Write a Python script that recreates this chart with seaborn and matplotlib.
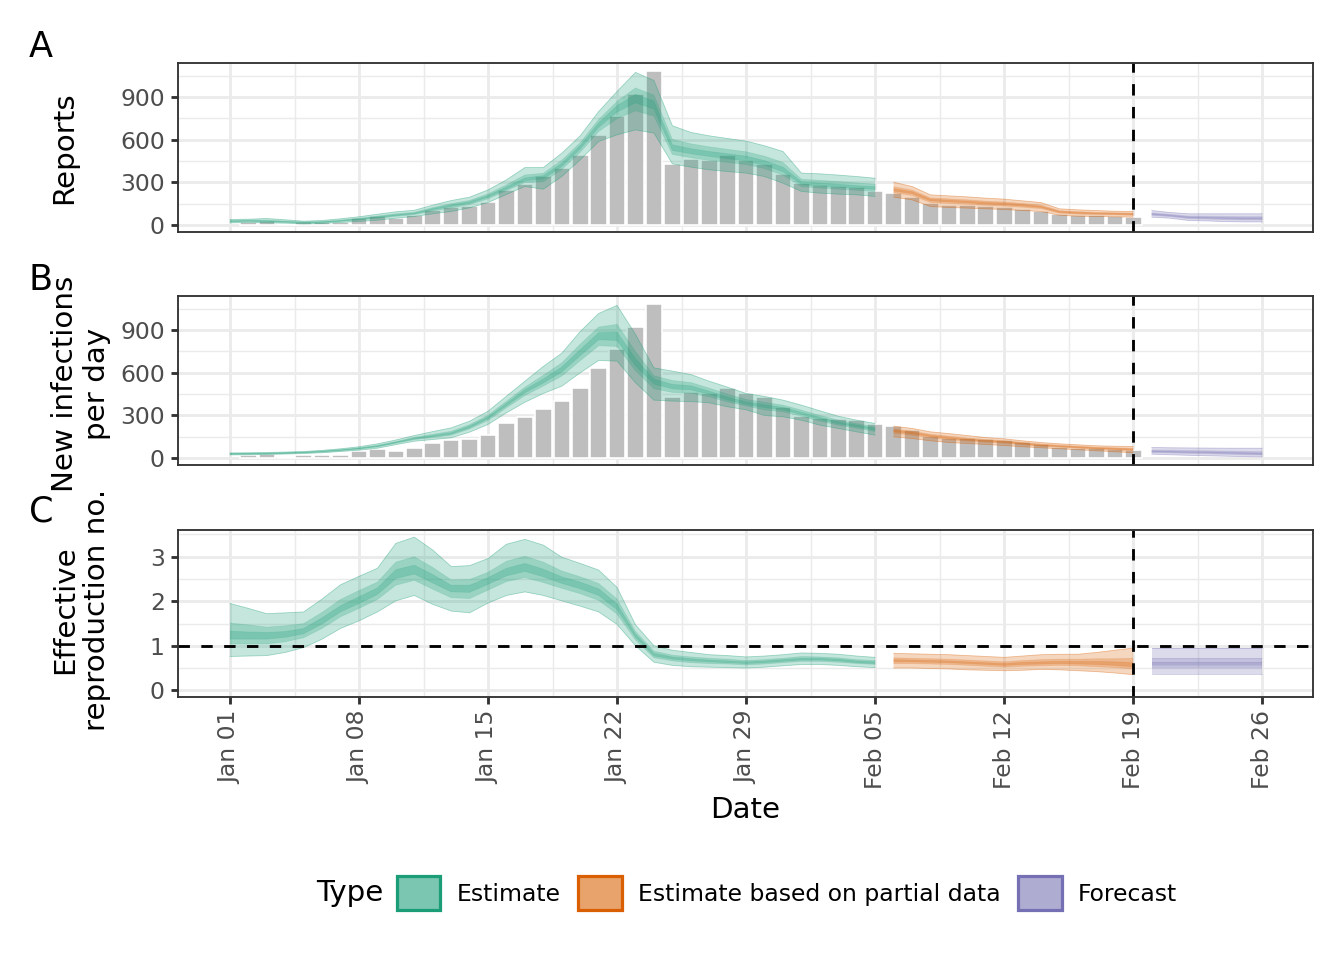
import pandas as pd
import numpy as np
import matplotlib
matplotlib.use("Agg")
import matplotlib.pyplot as plt
import matplotlib.dates as mdates
from matplotlib.patches import Patch
from matplotlib.ticker import FixedLocator
import seaborn as sns

# theme first, fonts after (set_theme resets font.family)
sns.set_theme(style="whitegrid")
plt.rcParams['font.family'] = ['DejaVu Sans']
plt.rcParams['text.color'] = 'black'

# ---------------- data ----------------
dates = pd.date_range("2020-01-01", "2020-02-26")
report_dates = pd.date_range("2020-01-02", "2020-02-19")
reports = [23, 26, 5, 21, 21, 21, 47, 61, 52, 75,
           110, 131, 138, 164, 246, 291, 345, 405, 492, 631,
           764, 920, 1083, 431, 462, 458, 495, 458, 429, 358,
           295, 284, 272, 270, 240, 225, 195, 155, 145, 140,
           135, 128, 112, 103, 80, 75, 72, 62, 58]

type_names = ["Estimate", "Estimate based on partial data", "Forecast"]
type_ends = ["2020-02-05", "2020-02-19", "2020-02-26"]

# Reports
rep_lo90 = [16, 19, 16, 14, 9, 12, 19, 26, 35, 49, 61, 80, 96, 122, 159, 216, 272, 253, 342, 459,
            588, 635, 670, 647, 431, 408, 389, 377, 366, 342, 295, 237, 225, 218, 213, 202, 197, 178, 131, 124,
            120, 115, 110, 103, 96, 70, 63, 61, 59, 56, 56, 49, 33, 30, 25, 23, 23]
rep_lo50 = [23, 26, 23, 19, 15, 17, 26, 36, 48, 62, 74, 100, 121, 144, 185, 242, 300, 304, 391, 512,
            658, 748, 804, 766, 497, 474, 455, 441, 426, 398, 351, 272, 260, 253, 245, 237, 228, 209, 159, 152,
            146, 139, 134, 126, 116, 84, 77, 74, 72, 69, 69, 60, 46, 43, 39, 37, 37]
rep_lo20 = [26, 28, 26, 22, 17, 20, 28, 40, 53, 67, 79, 108, 132, 153, 196, 253, 312, 325, 412, 535,
            687, 795, 860, 816, 525, 502, 483, 467, 451, 422, 375, 286, 275, 268, 259, 251, 240, 222, 171, 164,
            157, 149, 144, 135, 124, 90, 83, 79, 77, 74, 74, 65, 51, 49, 45, 43, 43]
rep_hi20 = [30, 32, 31, 25, 20, 23, 32, 45, 59, 74, 85, 117, 143, 165, 209, 269, 332, 348, 436, 560,
            719, 841, 920, 872, 565, 538, 518, 502, 485, 454, 408, 306, 296, 288, 278, 270, 256, 236, 183, 176,
            169, 160, 155, 145, 133, 97, 90, 85, 83, 80, 81, 71, 58, 56, 54, 52, 52]
rep_hi50 = [33, 35, 36, 29, 23, 26, 36, 49, 64, 80, 91, 124, 152, 174, 220, 284, 353, 365, 457, 580,
            743, 870, 965, 914, 604, 572, 551, 533, 516, 485, 441, 323, 315, 307, 297, 288, 270, 247, 192, 185,
            178, 169, 163, 153, 141, 102, 95, 90, 87, 85, 87, 76, 64, 63, 61, 60, 60]
rep_hi90 = [40, 42, 47, 38, 28, 33, 45, 59, 77, 94, 105, 141, 173, 197, 248, 319, 405, 405, 506, 628,
            799, 940, 1074, 1017, 699, 652, 628, 609, 591, 558, 518, 366, 361, 352, 342, 330, 302, 272, 213, 206,
            199, 190, 183, 171, 159, 115, 108, 103, 98, 96, 103, 89, 80, 80, 80, 80, 80]

# New infections per day
inf_lo90 = [23, 24, 26, 29, 33, 38, 47, 56, 70, 95, 119, 131, 143, 183, 237, 319, 393, 455, 506, 600,
            687, 682, 530, 408, 401, 398, 389, 361, 340, 300, 291, 267, 232, 209, 185, 162, 150, 138, 122, 110,
            103, 96, 89, 80, 73, 66, 59, 52, 45, 38, 28, 24, 20, 17, 14, 11, 9]
inf_lo50 = [27, 28, 30, 33, 37, 43, 52, 63, 78, 104, 130, 145, 161, 205, 265, 354, 440, 507, 577, 685,
            790, 785, 614, 488, 462, 456, 431, 395, 367, 339, 326, 295, 260, 232, 210, 187, 175, 162, 143, 130,
            120, 112, 105, 94, 84, 77, 70, 63, 58, 52, 39, 37, 33, 31, 28, 24, 22]
inf_lo20 = [29, 30, 32, 35, 39, 46, 55, 66, 82, 108, 135, 151, 169, 214, 277, 368, 459, 528, 606, 720,
            832, 827, 649, 521, 487, 480, 449, 409, 378, 355, 340, 307, 272, 242, 221, 198, 186, 172, 152, 138,
            127, 118, 111, 100, 88, 81, 74, 67, 63, 58, 44, 42, 39, 37, 34, 30, 27]
inf_hi20 = [31, 32, 34, 37, 41, 48, 58, 70, 87, 113, 141, 160, 179, 226, 291, 386, 482, 557, 641, 763,
            882, 886, 700, 555, 519, 509, 471, 429, 396, 375, 358, 323, 287, 255, 233, 210, 197, 183, 161, 147,
            135, 125, 118, 106, 94, 87, 80, 73, 69, 64, 51, 49, 46, 45, 42, 39, 36]
inf_hi50 = [33, 34, 36, 39, 43, 50, 60, 73, 91, 117, 146, 168, 189, 236, 302, 401, 499, 583, 670, 801,
            922, 941, 750, 579, 546, 532, 492, 450, 413, 393, 373, 338, 301, 267, 243, 220, 205, 190, 168, 155,
            142, 131, 123, 111, 99, 91, 84, 77, 73, 69, 58, 56, 54, 52, 50, 48, 46]
inf_hi90 = [37, 38, 40, 43, 47, 55, 66, 80, 101, 128, 159, 187, 213, 260, 330, 436, 541, 645, 738, 890,
            1017, 1074, 870, 635, 612, 588, 541, 499, 455, 434, 408, 373, 333, 295, 267, 244, 225, 209, 185, 173,
            159, 145, 136, 122, 110, 101, 94, 87, 84, 82, 75, 73, 72, 71, 70, 70, 70]

# Effective reproduction number
rt_lo90 = [0.76, 0.77, 0.78, 0.85, 0.96, 1.15, 1.39, 1.56, 1.76, 2.01, 2.13, 1.93, 1.78, 1.74, 1.96,
           2.13, 2.21, 2.13, 2.01, 1.89, 1.76, 1.48, 1.00, 0.63, 0.56, 0.53, 0.52, 0.51, 0.50, 0.52,
           0.55, 0.58, 0.58, 0.56, 0.53, 0.51, 0.50, 0.50, 0.49, 0.48, 0.46, 0.45, 0.44, 0.45, 0.47,
           0.46, 0.44, 0.42, 0.39, 0.35, 0.36, 0.36, 0.36, 0.36, 0.36, 0.36, 0.36]
rt_lo50 = [1.04, 1.04, 1.04, 1.09, 1.18, 1.39, 1.65, 1.84, 2.04, 2.36, 2.47, 2.27, 2.08, 2.06, 2.25,
           2.44, 2.53, 2.42, 2.29, 2.17, 2.02, 1.71, 1.13, 0.73, 0.66, 0.62, 0.60, 0.59, 0.57, 0.59,
           0.62, 0.65, 0.65, 0.63, 0.60, 0.58, 0.60, 0.60, 0.59, 0.58, 0.56, 0.54, 0.52, 0.54, 0.55,
           0.56, 0.55, 0.53, 0.51, 0.48, 0.50, 0.50, 0.50, 0.50, 0.50, 0.50, 0.50]
rt_lo20 = [1.15, 1.15, 1.15, 1.19, 1.27, 1.49, 1.76, 1.95, 2.15, 2.51, 2.61, 2.41, 2.21, 2.20, 2.38,
           2.57, 2.67, 2.55, 2.40, 2.28, 2.13, 1.81, 1.19, 0.77, 0.70, 0.66, 0.64, 0.62, 0.60, 0.62,
           0.65, 0.68, 0.68, 0.66, 0.62, 0.60, 0.64, 0.64, 0.63, 0.62, 0.60, 0.58, 0.56, 0.58, 0.59,
           0.60, 0.59, 0.58, 0.56, 0.53, 0.56, 0.56, 0.56, 0.56, 0.56, 0.56, 0.56]
rt_hi20 = [1.33, 1.31, 1.30, 1.32, 1.39, 1.63, 1.90, 2.10, 2.30, 2.71, 2.81, 2.60, 2.36, 2.36, 2.53,
           2.74, 2.85, 2.72, 2.55, 2.43, 2.28, 1.94, 1.26, 0.83, 0.75, 0.71, 0.68, 0.66, 0.64, 0.66,
           0.69, 0.72, 0.72, 0.70, 0.66, 0.64, 0.69, 0.68, 0.67, 0.66, 0.64, 0.62, 0.60, 0.63, 0.64,
           0.65, 0.65, 0.65, 0.64, 0.62, 0.64, 0.64, 0.64, 0.64, 0.64, 0.64, 0.64]
rt_hi50 = [1.51, 1.47, 1.42, 1.45, 1.50, 1.75, 2.04, 2.24, 2.43, 2.88, 3.00, 2.76, 2.48, 2.49, 2.65,
           2.90, 3.01, 2.88, 2.68, 2.55, 2.40, 2.05, 1.32, 0.88, 0.79, 0.75, 0.72, 0.70, 0.67, 0.69,
           0.72, 0.76, 0.75, 0.73, 0.69, 0.67, 0.73, 0.72, 0.71, 0.70, 0.68, 0.66, 0.64, 0.67, 0.69,
           0.70, 0.70, 0.71, 0.71, 0.72, 0.73, 0.73, 0.73, 0.73, 0.73, 0.73, 0.73]
rt_hi90 = [1.95, 1.84, 1.72, 1.74, 1.76, 2.05, 2.37, 2.56, 2.74, 3.30, 3.44, 3.15, 2.78, 2.80, 2.96,
           3.28, 3.39, 3.26, 2.99, 2.85, 2.70, 2.31, 1.47, 1.00, 0.90, 0.85, 0.80, 0.78, 0.75, 0.77,
           0.80, 0.84, 0.83, 0.81, 0.77, 0.74, 0.83, 0.82, 0.81, 0.80, 0.78, 0.76, 0.74, 0.77, 0.80,
           0.81, 0.81, 0.85, 0.90, 0.95, 0.95, 0.95, 0.95, 0.95, 0.95, 0.95, 0.95]

y_ticks_cases = [0, 300, 600, 900]
y_ticks_rt = [0, 1, 2, 3]
forecast_date = "2020-02-19"

# ---------------- styling ----------------
colors = sns.color_palette("Dark2", 3)
grid_col = "#EBEBEB"
dark = "#333333"
lw = 1.07

fig = plt.figure(figsize=(7, 5), dpi=192)
fig.patch.set_facecolor("white")

W, H = 1344, 960
def rect(x0, y0, x1, y1):
    return [x0 / W, 1 - y1 / H, (x1 - x0) / W, (y1 - y0) / H]

ax_a = fig.add_axes(rect(178, 63, 1313, 232))
ax_b = fig.add_axes(rect(178, 296, 1313, 465))
ax_c = fig.add_axes(rect(178, 530, 1313, 697))

x_all = mdates.date2num(dates)
x_lim = (x_all[0] - 2.82, x_all[-1] + 2.75)
week_ticks = pd.date_range("2020-01-01", "2020-02-26", freq="7D")
week_num = mdates.date2num(week_ticks)
half_week = week_num[:-1] + 3.5

seg_masks = []
start = dates[0]
for end in type_ends:
    seg_masks.append((dates >= start) & (dates <= pd.Timestamp(end)))
    start = pd.Timestamp(end) + pd.Timedelta(days=1)


def draw_ribbons(ax, bands):
    for k, mask in enumerate(seg_masks):
        xs = x_all[mask]
        for j, (lo, hi) in enumerate(bands):
            ax.fill_between(xs, np.array(lo)[mask], np.array(hi)[mask],
                            facecolor=colors[k], alpha=0.25, edgecolor="none", zorder=3)
            edge_alpha = 0.4 if j == 0 else 0.15
            ax.plot(xs, np.array(lo)[mask], color=colors[k], alpha=edge_alpha, lw=0.3, zorder=3)
            ax.plot(xs, np.array(hi)[mask], color=colors[k], alpha=edge_alpha, lw=0.3, zorder=3)


def style_axis(ax, yticks, yminor, ylim, show_x):
    ax.set_facecolor("white")
    ax.set_xlim(x_lim)
    ax.set_ylim(ylim)
    ax.xaxis.set_major_locator(FixedLocator(week_num))
    ax.xaxis.set_minor_locator(FixedLocator(half_week))
    ax.yaxis.set_major_locator(FixedLocator(yticks))
    ax.yaxis.set_minor_locator(FixedLocator(yminor))
    ax.grid(True, which="major", color=grid_col, lw=lw, zorder=0)
    ax.grid(True, which="minor", color=grid_col, lw=lw / 2, zorder=0)
    ax.set_axisbelow(True)
    for sp in ax.spines.values():
        sp.set_visible(True)
        sp.set_color(dark)
        sp.set_linewidth(0.7)
        sp.set_zorder(6)
    ax.tick_params(axis="y", which="major", length=2.75, width=lw, color=dark,
                   labelsize=8.8, labelcolor="#4D4D4D", pad=2.2, left=True)
    ax.tick_params(axis="both", which="minor", length=0)
    ax.set_ylabel("")
    ax.set_xlabel("")
    if show_x:
        ax.xaxis.set_major_formatter(mdates.DateFormatter("%b %d"))
        ax.tick_params(axis="x", which="major", length=2.75, width=lw, color=dark, bottom=True,
                       labelsize=8.8, labelcolor="#4D4D4D", pad=2.2, labelrotation=90)
        for t in ax.get_xticklabels():
            t.set_va("top")
            t.set_ha("center")
    else:
        ax.tick_params(axis="x", which="major", length=0, labelbottom=False)
    ax.axvline(mdates.date2num(pd.Timestamp(forecast_date)), color="black", lw=lw,
               ls=(0, (4, 4)), zorder=5)


bar_df = pd.DataFrame({"x": mdates.date2num(report_dates), "reports": reports})
for ax in (ax_a, ax_b):
    sns.barplot(data=bar_df, x="x", y="reports", native_scale=True, orient="x", width=0.9,
                color="#BEBEBE", saturation=1, edgecolor="white", linewidth=0.6,
                errorbar=None, ax=ax, zorder=2)

draw_ribbons(ax_a, [(rep_lo90, rep_hi90), (rep_lo50, rep_hi50), (rep_lo20, rep_hi20)])
draw_ribbons(ax_b, [(inf_lo90, inf_hi90), (inf_lo50, inf_hi50), (inf_lo20, inf_hi20)])
draw_ribbons(ax_c, [(rt_lo90, rt_hi90), (rt_lo50, rt_hi50), (rt_lo20, rt_hi20)])
ax_c.axhline(1, color="black", lw=lw, ls=(0, (4, 4)), zorder=5)

style_axis(ax_a, y_ticks_cases, [150, 450, 750, 1050], (-48, 1140), False)
style_axis(ax_b, y_ticks_cases, [150, 450, 750, 1050], (-48, 1140), False)
style_axis(ax_c, y_ticks_rt, [0.5, 1.5, 2.5, 3.5], (-0.15, 3.6), True)

# axis titles and panel tags
fig.text(64 / W, 1 - 147.5 / H, "Reports", rotation=90, ha="center", va="center", fontsize=11)
fig.text(81 / W, 1 - 384 / H, "New infections\nper day", rotation=90, ha="center", va="center",
         fontsize=11, multialignment="center", linespacing=1.15)
fig.text(81 / W, 1 - 610 / H, "Effective\nreproduction no.", rotation=90, ha="center", va="center",
         fontsize=11, multialignment="center", linespacing=1.15)
for tag, yy in [("A", 47), ("B", 280), ("C", 512)]:
    fig.text(41 / W, 1 - yy / H, tag, ha="center", va="center", fontsize=13.2)
fig.text(745.5 / W, 1 - 810 / H, "Date", ha="center", va="center", fontsize=11)

# legend
handles = [Patch(facecolor=(*c, 0.58), edgecolor=c, linewidth=1.2) for c in colors]
leg = fig.legend(handles, type_names, loc="center", bbox_to_anchor=(787 / W, 1 - 893 / H), ncol=3,
                 frameon=False, fontsize=8.8, handlelength=1.85, handleheight=1.85,
                 handletextpad=0.7, columnspacing=0.75, borderaxespad=0)
for t in leg.get_texts():
    t.set_color("black")
fig.text(350 / W, 1 - 893 / H, "Type", ha="center", va="center", fontsize=11)

fig.savefig("out.png", dpi=192, facecolor="white")
